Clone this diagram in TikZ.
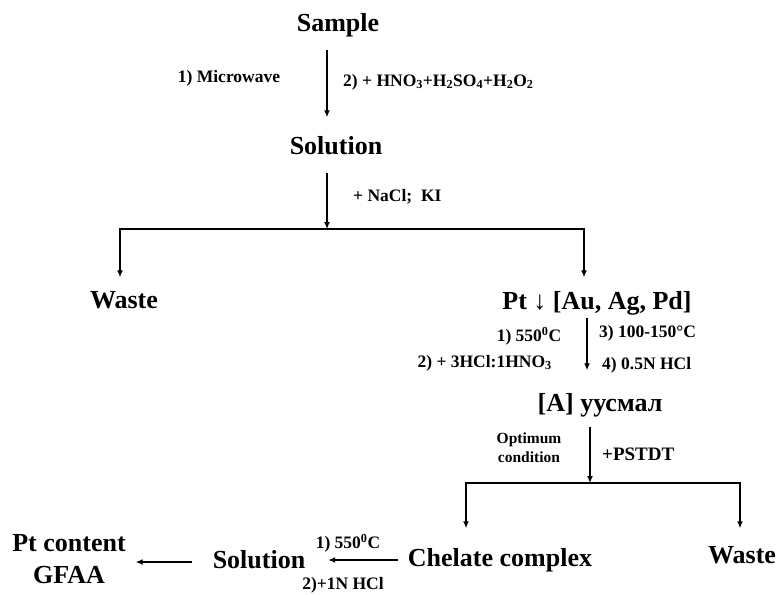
\documentclass[tikz,border=0pt]{standalone}
\usepackage{fontspec}
\setmainfont{Liberation Serif}
\usetikzlibrary{arrows.meta,positioning,calc}

\tikzset{
  bigtxt/.style={font=\bfseries\fontsize{26}{30}\selectfont, inner sep=0pt, outer sep=0pt, text height=18pt, text depth=5.5pt},
  twoline/.style={font=\bfseries\fontsize{26}{32}\selectfont, inner sep=0pt, outer sep=0pt, align=center},
  smalltxt/.style={font=\bfseries\fontsize{17.5}{21}\selectfont, inner sep=0pt},
  opttxt/.style={font=\bfseries\fontsize{15.5}{19}\selectfont, inner sep=0pt, align=center},
  arr/.style={-{Latex[length=7pt,width=6pt]}, line width=1.3pt},
}

\begin{document}
\begin{tikzpicture}[x=1pt,y=-1pt]
  \useasboundingbox (0,0) rectangle (781,594);

  \node[bigtxt] (sample) at (338,25) {Sample};
  \node[bigtxt] (sol1) at (336,148) {Solution};
  \node[bigtxt] (waste1) at (124,302) {Waste};
  \node[bigtxt] (pt) at (597,303) {Pt ↓ [Au, Ag, Pd]};
  \node[bigtxt] (au) at (600,405) {[A] уусмал};
  \node[bigtxt] (chel) at (500,560) {Chelate complex};
  \node[bigtxt] (waste2) at (742,557) {Waste};
  \node[bigtxt] (sol2) at (259,562) {Solution};
  \node[twoline] (ptc) at (69,559) {Pt content\\GFAA};

  \node[smalltxt] (mw) at (229,78) {1) Microwave};
  \node[smalltxt, anchor=west] (acid) at (343,82) {2) + HNO\textsubscript{3}+H\textsubscript{2}SO\textsubscript{4}+H\textsubscript{2}O\textsubscript{2}};
  \node[smalltxt, anchor=west] (nacl) at (353,197) {+ NaCl;\ \ KI};
  \node[smalltxt] (c1) at (529,336) {1) 550\textsuperscript{0}C};
  \node[smalltxt, anchor=east] (c2) at (552,363) {2) + 3HCl:1HNO\textsubscript{3}};
  \node[smalltxt, anchor=west] (c3) at (599,333) {3) 100-150°C};
  \node[smalltxt, anchor=west] (c4) at (602,365) {4) 0.5N HCl};
  \node[opttxt] (opt) at (529,448) {Optimum\\condition};
  \node[smalltxt, font=\bfseries\fontsize{19}{22}\selectfont, anchor=west] (pstdt) at (602,454) {+PSTDT};
  \node[smalltxt] (h1) at (348,543) {1) 550\textsuperscript{0}C};
  \node[smalltxt] (h2) at (343,585) {2)+1N HCl};

  \coordinate (split1) at (327,229);
  \coordinate (split2) at (590,483);

  \draw[arr, shorten <=13pt, shorten >=19pt] ([xshift=-11pt]sample.south) -- ([xshift=-11pt]sample.south |- sol1.north);
  \draw[arr, shorten <=13pt] (sol1.south -| split1) -- (split1);
  \draw[arr, shorten >=13pt] (split1) -| ([xshift=-4pt]waste1.north);
  \draw[arr, shorten >=14pt] (split1) -| ([xshift=-13pt]pt.north);
  \draw[arr, shorten <=3pt, shorten >=23pt] ([xshift=-10pt]pt.south) -- ([xshift=-10pt]pt.south |- au.north);
  \draw[arr, shorten <=10pt] (au.south -| split2) -- (split2);
  \draw[arr, shorten >=20pt] (split2) -| ([xshift=-34pt]chel.north);
  \draw[arr, shorten >=17pt] (split2) -| ([xshift=-2pt]waste2.north);
  \draw[arr, shorten <=10pt, shorten >=23pt] (chel.west) -- (sol2.east |- chel.west);
  \draw[arr, shorten <=21pt, shorten >=10pt] (sol2.west) -- (ptc.east |- sol2.west);
\end{tikzpicture}
\end{document}
